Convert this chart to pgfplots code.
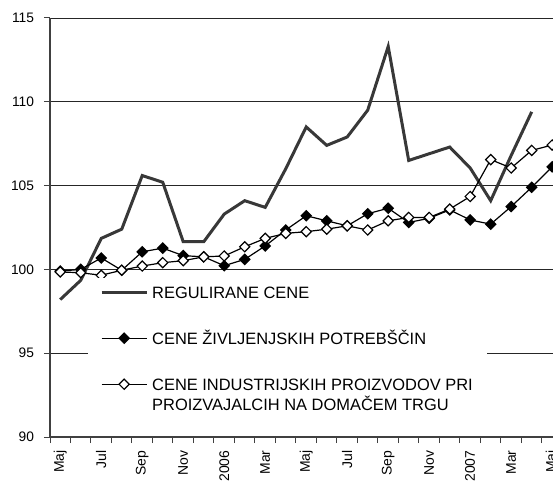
\documentclass[border=0pt]{standalone}
\usepackage{pgfplots}
\pgfplotsset{compat=1.18}
\usepackage{fontspec}
\setmainfont{Liberation Sans}
\definecolor{reggray}{HTML}{383838}
\definecolor{axgray}{HTML}{404040}
\begin{document}
\begin{tikzpicture}
\begin{axis}[
  name=ax,
  scale only axis,
  width=503bp, height=419bp,
  xmin=-0.5, xmax=24.04,
  ymin=90, ymax=115,
  axis x line*=bottom, axis y line*=left,
  axis line style={axgray, line width=1.5bp},
  ytick={90,95,...,115},
  ymajorgrids,
  grid style={black!85, line width=0.8bp},
  tick align=outside,
  major tick length=6bp,
  minor tick length=6bp,
  tick style={axgray, line width=1bp},
  xtick={0,2,...,24},
  xticklabels={Maj,Jul,Sep,Nov,2006,Mar,Maj,Jul,Sep,Nov,2007,Mar,Maj},
  major x tick style={draw=none},
  minor xtick={-0.5,0.5,...,23.5},
  /pgf/number format/assume math mode=true,
  tick label style={text=black},
  xticklabel style={font=\fontsize{14}{16}\selectfont, yshift=-4bp, rotate=90, anchor=east},
  yticklabel style={font=\fontsize{13.8}{16}\selectfont, xshift=-6.5bp},
  legend style={at={(0.0755,0.3795)}, anchor=north west, draw=none, fill=white,
    font=\fontsize{16.5}{19.5}\selectfont,
    nodes={inner sep=2bp, text height=12bp, text depth=0bp},
    row sep=30bp, column sep=2bp, inner xsep=12bp, inner ysep=6bp},
  legend cell align=left,
  legend image code/.code={\draw[mark repeat=2,mark phase=2,#1] plot coordinates {(0bp,0bp) (22.5bp,0bp) (45bp,0bp)};},
]
\addplot[reggray, line width=3bp, no marks] coordinates {
(0,98.2) (1,99.35) (2,101.85) (3,102.4) (4,105.6) (5,105.2) (6,101.65) (7,101.65)
(8,103.3) (9,104.1) (10,103.7) (11,106.0) (12,108.5) (13,107.4) (14,107.9) (15,109.5)
(16,113.3) (17,106.5) (18,106.9) (19,107.3) (20,106.05) (21,104.1) (22,106.8) (23,109.4)};
\addlegendentry{REGULIRANE CENE}
\addplot[black, line width=1.2bp, mark=square*, mark size=3.6bp, mark options={rotate=45, fill=black}] coordinates {
(0,99.9) (1,100.0) (2,100.68) (3,99.95) (4,101.05) (5,101.27) (6,100.82) (7,100.75)
(8,100.22) (9,100.6) (10,101.4) (11,102.35) (12,103.2) (13,102.9) (14,102.6) (15,103.32)
(16,103.65) (17,102.8) (18,103.05) (19,103.55) (20,102.95) (21,102.7) (22,103.75) (23,104.9) (24,106.12)};
\addlegendentry{CENE ŽIVLJENJSKIH POTREBŠČIN}
\addplot[black, line width=1.2bp, mark=square*, mark size=3.6bp, mark options={rotate=45, fill=white}] coordinates {
(0,99.85) (1,99.8) (2,99.65) (3,99.95) (4,100.2) (5,100.4) (6,100.52) (7,100.75)
(8,100.8) (9,101.35) (10,101.85) (11,102.15) (12,102.25) (13,102.4) (14,102.6) (15,102.35)
(16,102.9) (17,103.1) (18,103.1) (19,103.6) (20,104.35) (21,106.55) (22,106.05) (23,107.1) (24,107.42)};
\addlegendentry{\begin{tabular}[t]{@{}l@{}}CENE INDUSTRIJSKIH PROIZVODOV PRI\\PROIZVAJALCIH NA DOMAČEM TRGU\end{tabular}}
\end{axis}
\pgfresetboundingbox
\path[use as bounding box] ([xshift=-50bp,yshift=-44bp]ax.south west) rectangle ([yshift=18bp]ax.north east);
\end{tikzpicture}
\end{document}
